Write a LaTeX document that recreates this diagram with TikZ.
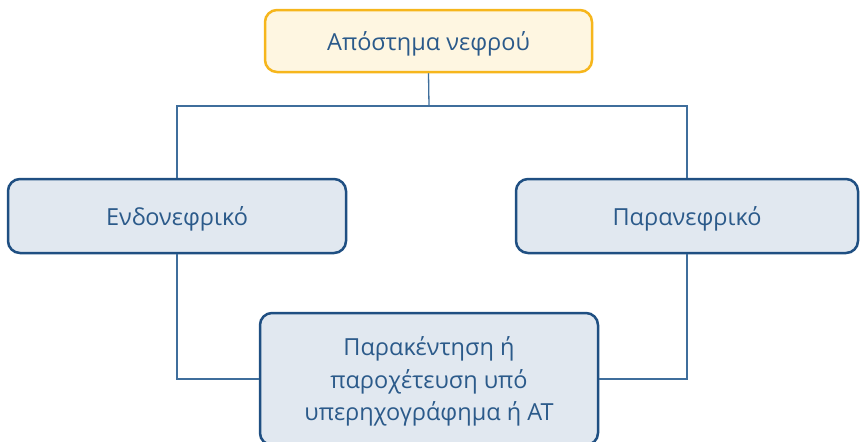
\documentclass[tikz,border=0pt]{standalone}
\usepackage{fontspec}
\setmainfont{Open Sans}
\usetikzlibrary{positioning}
\definecolor{boxblue}{HTML}{1F4F82}
\definecolor{boxfill}{HTML}{E1E8F0}
\definecolor{rootline}{HTML}{F6B61C}
\definecolor{rootfill}{HTML}{FEF6E1}
\definecolor{linkblue}{HTML}{3F6E9C}
\definecolor{txtblue}{HTML}{2B5A8A}

\begin{document}
\begin{tikzpicture}[x=1pt, y=-1pt,
  box/.style={draw=boxblue, fill=boxfill, line width=2.5pt, rounded corners=12pt,
    text=txtblue, font=\fontsize{23.5}{32.5}\selectfont, align=center, inner sep=0pt,
    text depth=0pt},
  rootbox/.style={box, draw=rootline, fill=rootfill},
  link/.style={draw=linkblue, line width=1.3pt}
]
  \useasboundingbox (0,0) rectangle (860,442);

  % Root
  \node[rootbox, minimum width=327pt, minimum height=62pt] (root) at (428.5, 41) {Απόστημα νεφρού};

  % Two types
  \node[box, minimum width=338pt, minimum height=74pt] (intra) at (177, 216) {Ενδονεφρικό};
  \node[box, minimum width=342pt, minimum height=74pt] (para) at (687, 216) {Παρανεφρικό};

  % Treatment
  \node[box, minimum width=338pt, minimum height=132pt] (drain) at (429, 379)
    {Παρακέντηση ή\\ παροχέτευση υπό\\ υπερηχογράφημα ή ΑΤ};

  % Links
  \coordinate (fork) at (429, 106);
  \draw[link] (root.south) -- (fork);
  \draw[link] (intra.north) |- (fork) -| (para.north);
  \draw[link] (intra.south) |- (drain.west);
  \draw[link] (para.south) |- (drain.east);
\end{tikzpicture}
\end{document}
